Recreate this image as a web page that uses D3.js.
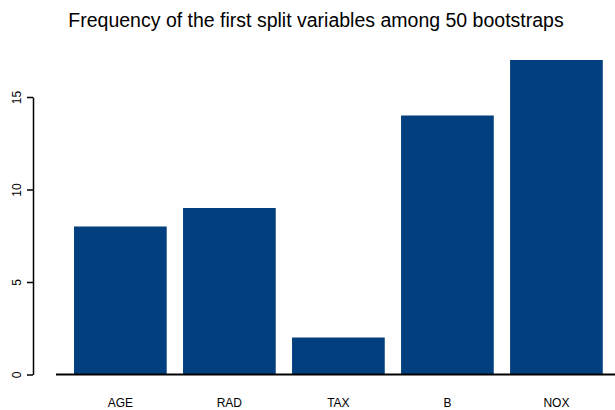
<!DOCTYPE html>
<html>
<head>
<meta charset="utf-8">
<script src="https://cdn.jsdelivr.net/npm/d3@7"></script>
<style>
  body { margin: 0; background: #fff; }
  text { font-family: "Liberation Sans", Arial, sans-serif; fill: #000; }
</style>
</head>
<body>
<script>
// split variables and how often each was picked first
var categories = ["AGE", "RAD", "TAX", "B", "NOX"];
var counts = [8, 9, 2, 14, 17];
var yTicks = [0, 5, 10, 15];

var width = 615,
    height = 410,
    space = 0.176,
    barColor = "#023f7e";

var svg = d3.select("body").append("svg")
    .attr("width", width)
    .attr("height", height);

// barplot style: bar width 1 unit, gap of `space` units before each bar
var x = d3.scaleLinear().domain([0, 1]).range([57.7, 57.7 + 92.7]);
var y = d3.scaleLinear().domain([0, 15]).range([374.5, 97]);

svg.selectAll(".bar")
    .data(counts)
    .enter().append("rect")
      .attr("class", "bar")
      .attr("x", function(d, i) { return x(space + i * (1 + space)); })
      .attr("width", function() { return x(1) - x(0); })
      .attr("y", function(d) { return y(d); })
      .attr("height", function(d) { return y(0) - y(d); })
      .attr("fill", barColor);

// base line under the bars
svg.append("line")
    .attr("x1", 56).attr("x2", width)
    .attr("y1", 374.5).attr("y2", 374.5)
    .attr("stroke", "#000").attr("stroke-width", 2);

// category labels
svg.selectAll(".cat")
    .data(categories)
    .enter().append("text")
      .attr("class", "cat")
      .attr("x", function(d, i) { return x(space + 0.5 + i * (1 + space)); })
      .attr("y", 407)
      .attr("text-anchor", "middle")
      .style("font-size", "12px")
      .text(function(d) { return d; });

// y axis, labels turned like R's default las=0
var axis = svg.append("g")
    .attr("transform", "translate(33,0)")
    .call(d3.axisLeft(y).tickValues(yTicks).tickSize(6).tickSizeOuter(0).tickPadding(0));

axis.select(".domain").attr("stroke", "#000").attr("stroke-width", 1.5);
axis.selectAll(".tick line").attr("stroke", "#000").attr("stroke-width", 1.5);
axis.selectAll(".tick text")
    .attr("x", 0).attr("dy", null)
    .attr("transform", "translate(-12,0) rotate(-90)")
    .attr("text-anchor", "middle")
    .attr("dominant-baseline", "auto")
    .style("font-family", "Liberation Sans, Arial, sans-serif")
    .style("font-size", "12px")
    .attr("fill", "#000");

svg.append("text")
    .attr("x", 316)
    .attr("y", 27)
    .attr("text-anchor", "middle")
    .style("font-size", "19.5px")
    .text("Frequency of the first split variables among 50 bootstraps");
</script>
</body>
</html>
